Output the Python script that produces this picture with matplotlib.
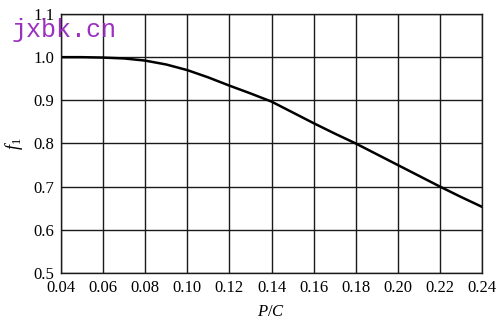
import numpy as np
import matplotlib
matplotlib.use("Agg")
import matplotlib.pyplot as plt

# f1 as a function of the load ratio P/C
p_over_c = [0.04, 0.05, 0.06, 0.07, 0.08, 0.09, 0.10, 0.11, 0.12, 0.13,
            0.14, 0.15, 0.16, 0.17, 0.18, 0.19, 0.20, 0.21, 0.22, 0.23, 0.24]
f1 = [1.000, 1.000, 0.999, 0.997, 0.992, 0.983, 0.970, 0.953, 0.934, 0.916,
      0.897, 0.872, 0.847, 0.823, 0.800, 0.775, 0.750, 0.725, 0.700, 0.676, 0.653]

x_ticks = [0.04, 0.06, 0.08, 0.10, 0.12, 0.14, 0.16, 0.18, 0.20, 0.22, 0.24]
y_ticks = [0.5, 0.6, 0.7, 0.8, 0.9, 1.0, 1.1]

plt.rcParams['font.family'] = ['Liberation Serif', 'DejaVu Serif']
plt.rcParams['mathtext.fontset'] = 'custom'
plt.rcParams['mathtext.rm'] = 'Liberation Serif'
plt.rcParams['mathtext.it'] = 'Liberation Serif:italic'

fig = plt.figure(figsize=(5.0, 3.26), dpi=100)
ax = fig.add_axes([0.122, 0.163, 0.842, 0.794])

ax.plot(p_over_c, f1, color='black', lw=1.8, solid_capstyle='round')

ax.set_xlim(0.04, 0.24)
ax.set_ylim(0.5, 1.1)
ax.set_xticks(x_ticks)
ax.set_yticks(y_ticks)
ax.set_xticklabels(['%.2f' % v for v in x_ticks], fontsize=12)
ax.set_yticklabels(['%.1f' % v for v in y_ticks], fontsize=12)
ax.tick_params(length=0, pad=5)
ax.grid(True, color='#1a1a1a', lw=1.0)
for s in ax.spines.values():
    s.set_color('#1a1a1a')
    s.set_linewidth(1.0)

ax.set_xlabel('$P/C$', fontsize=12, labelpad=6)
ax.set_ylabel('$f_1$', fontsize=13, labelpad=6)

# site watermark
fig.text(0.024, 0.885, 'jxbk.cn', fontsize=18, color='#9a2fc0',
         family='Liberation Mono')

fig.savefig('out.png', dpi=100)
